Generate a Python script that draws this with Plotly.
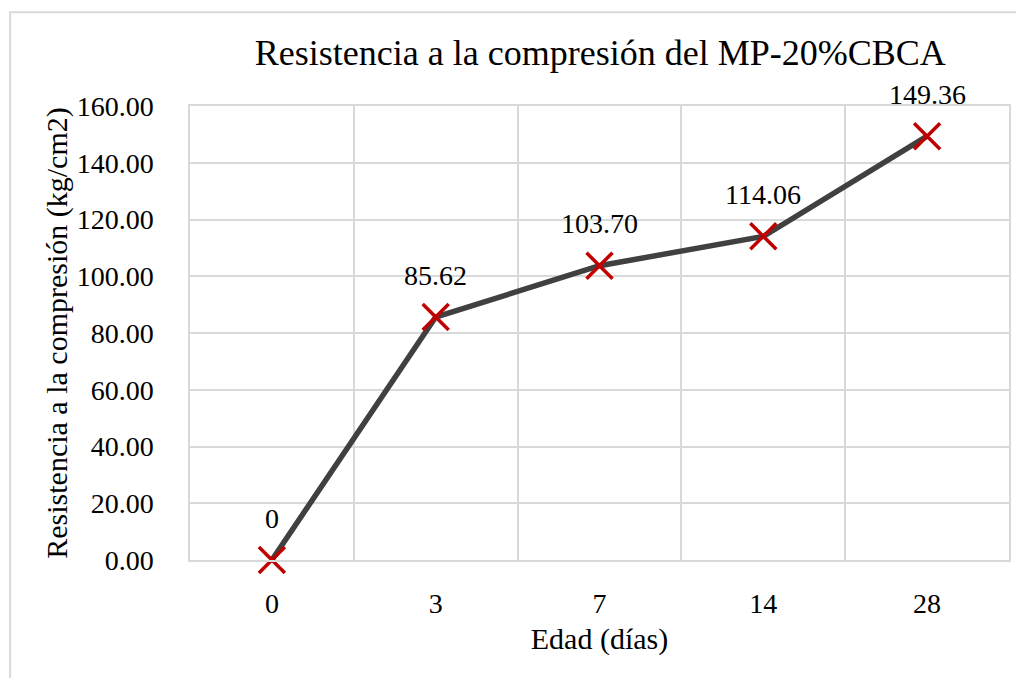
import plotly.graph_objects as go

edades = ["0", "3", "7", "14", "28"]
resistencia = [0, 85.62, 103.70, 114.06, 149.36]
etiquetas = ["0", "85.62", "103.70", "114.06", "149.36"]

# page body adds an 8px offset, so targets are shifted by -8
OFF = 8
W, H = 1024, 678
L, R, T, B = 189.5 - OFF, 1009 - OFF, 105.5 - OFF, 560.5 - OFF
FONT = "Liberation Serif, Times New Roman, serif"

fig = go.Figure()
fig.add_trace(go.Scatter(
    x=edades, y=resistencia, mode="lines+markers",
    line=dict(color="#404040", width=5.5),
    marker=dict(symbol="x-thin", size=26, color="#C00000",
                line=dict(color="#C00000", width=3.5)),
    hoverinfo="skip", showlegend=False, cliponaxis=False,
))

for i, (yv, t) in enumerate(zip(resistencia, etiquetas)):
    fig.add_annotation(x=i, y=yv, text=t, showarrow=False, yshift=42,
                       font=dict(family=FONT, size=28, color="#000000"))

def px_x(p):
    return (p - OFF - L) / (R - L)

def px_y(p):
    return (B - (p - OFF)) / (B - T)

fig.add_shape(type="rect", xref="paper", yref="paper",
              x0=px_x(9.5), x1=px_x(1060), y0=px_y(720), y1=px_y(11.5),
              line=dict(color="#d9d9d9", width=2), layer="below")

fig.update_layout(
    width=W, height=H,
    margin=dict(l=L, r=W - R, t=T, b=H - B, autoexpand=False),
    paper_bgcolor="white", plot_bgcolor="white",
    font=dict(family=FONT, size=28, color="#000000"),
    title=dict(text="Resistencia a la compresión del MP-20%CBCA",
               x=px_x(600), xanchor="center", xref="paper",
               y=1 - (52 - OFF) / H, yanchor="middle",
               font=dict(family=FONT, size=36, color="#000000")),
)
fig.update_xaxes(
    type="category", range=[-0.5, 4.5], tickson="boundaries",
    showgrid=True, gridcolor="#d9d9d9", gridwidth=1.5,
    showline=True, linecolor="#d9d9d9", linewidth=1.5, mirror=True,
    ticks="", ticklabelstandoff=18, automargin=False,
    title=dict(text="Edad (días)", standoff=10, font=dict(family=FONT, size=30)),
    tickfont=dict(family=FONT, size=28),
)
fig.update_yaxes(
    range=[0, 160], dtick=20, tickformat=".2f",
    showgrid=True, gridcolor="#d9d9d9", gridwidth=1.5,
    showline=True, linecolor="#d9d9d9", linewidth=1.5, mirror=True,
    zeroline=False, ticks="", ticklabelstandoff=29, automargin=False,
    title=dict(text="Resistencia a la compresión (kg/cm2)", standoff=0,
               font=dict(family=FONT, size=30)),
    tickfont=dict(family=FONT, size=28),
)

fig.write_html("out.html")
